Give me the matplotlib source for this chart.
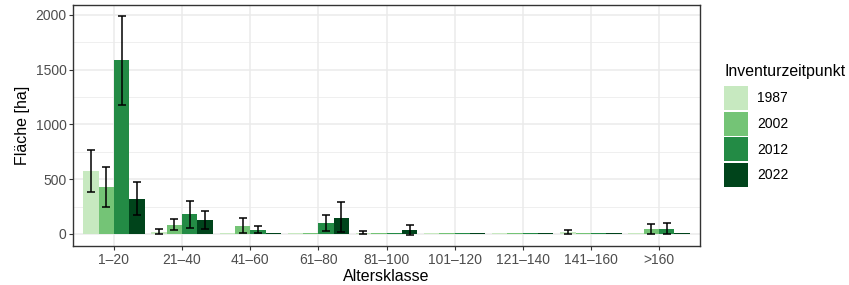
import numpy as np
import matplotlib.pyplot as plt
from matplotlib.patches import Patch

plt.rcParams['font.family'] = ['Liberation Sans', 'DejaVu Sans']

klassen = ['1–20', '21–40', '41–60', '61–80', '81–100', '101–120', '121–140', '141–160', '>160']
jahre = ['1987', '2002', '2012', '2022']
farben = ['#c7e9c0', '#74c476', '#238b45', '#00441b']

# Flaeche [ha] je Altersklasse und Inventurzeitpunkt
flaeche = {
    '1987': [575, 18, 5, 5, 12, 5, 5, 21, 5],
    '2002': [429, 82, 73, 6, 6, 6, 6, 6, 46],
    '2012': [1589, 183, 37, 100, 6, 6, 6, 6, 46],
    '2022': [320, 128, 6, 146, 37, 6, 6, 6, 6],
}
# untere / obere Grenze der Fehlerbalken (nan = kein Fehlerbalken)
nan = np.nan
err_lo = {
    '1987': [384, -3, nan, nan, -3, nan, nan, 3, nan],
    '2002': [244, 37, 6, nan, nan, nan, nan, nan, -3],
    '2012': [1178, 58, 9, 24, nan, nan, nan, nan, -3],
    '2022': [171, 46, nan, 15, -5, nan, nan, nan, nan],
}
err_hi = {
    '1987': [764, 46, nan, nan, 27, nan, nan, 33, nan],
    '2002': [615, 140, 149, nan, nan, nan, nan, nan, 94],
    '2012': [1994, 299, 70, 174, nan, nan, nan, nan, 97],
    '2022': [475, 207, nan, 289, 82, nan, nan, nan, nan],
}

fig = plt.figure(figsize=(8.49, 2.85), dpi=100)
ax = fig.add_axes([73 / 849, 1 - 246 / 285, 627 / 849, 241 / 285])

x = np.arange(len(klassen))
breite = 0.9 / len(jahre)
for i, (jahr, farbe) in enumerate(zip(jahre, farben)):
    pos = x - 0.45 + breite * (i + 0.5)
    ax.bar(pos, flaeche[jahr], breite, color=farbe, lw=0, zorder=2)
    lo = np.array(err_lo[jahr], dtype=float)
    hi = np.array(err_hi[jahr], dtype=float)
    ok = ~np.isnan(lo)
    mitte = (lo + hi) / 2
    ax.errorbar(pos[ok], mitte[ok], yerr=((hi - lo) / 2)[ok], fmt='none',
                ecolor='black', elinewidth=1.1, capsize=2.6, capthick=1.1, zorder=3)

ax.set_xlim(-0.6, len(klassen) - 0.4)
ax.set_ylim(-110, 2091)
ax.set_xticks(x, klassen)
ax.set_yticks([0, 500, 1000, 1500, 2000])
ax.set_yticks([250, 750, 1250, 1750], minor=True)
ax.grid(True, which='major', color='#ebebeb', lw=1.1, zorder=0)
ax.grid(True, which='minor', axis='y', color='#ebebeb', lw=0.55, zorder=0)
ax.set_axisbelow(True)
for s in ax.spines.values():
    s.set_color('#333333')
    s.set_linewidth(1.0)
ax.tick_params(axis='both', which='major', colors='#333333', labelcolor='#4d4d4d',
               labelsize=10, length=2.75, width=0.8, pad=2)
ax.tick_params(axis='y', which='minor', length=0)
ax.set_xlabel('Altersklasse', fontsize=11.5, labelpad=2)
ax.set_ylabel('Fläche [ha]', fontsize=11.5, labelpad=4)

# Legende: quadratische Schluessel (ca. 24 px)
handles = [Patch(facecolor=f, lw=0) for f in farben]
leg = fig.legend(handles, jahre, loc='upper left', bbox_to_anchor=(724 / 849, 1 - 64 / 285),
                 frameon=False, title='Inventurzeitpunkt', fontsize=10,
                 title_fontsize=11.4, handlelength=1.73, handleheight=2.285,
                 labelspacing=0.12, handletextpad=0.65, borderaxespad=0, borderpad=0)
leg._legend_box.align = 'left'
leg._legend_box.sep = 5.0

fig.savefig('out.png', dpi=100)
